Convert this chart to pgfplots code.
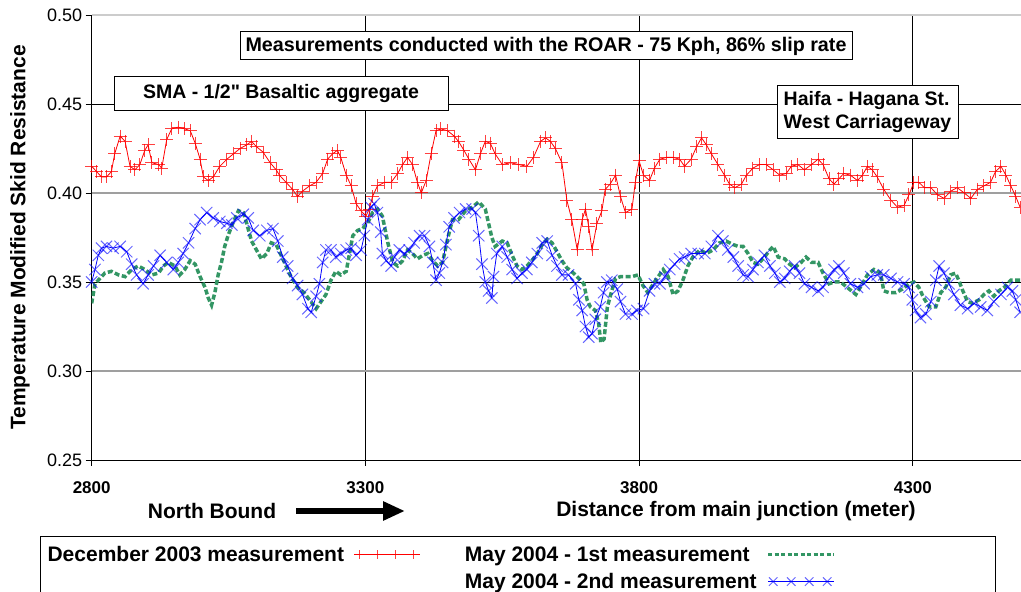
\documentclass[border=0pt]{standalone}
\usepackage{fontspec}
\setmainfont{Liberation Sans}[Ligatures=TeXOff]
\usepackage{pgfplots}
\pgfplotsset{compat=1.18}
\usetikzlibrary{arrows.meta}
\definecolor{sgreen}{RGB}{51,150,100}
\begin{document}
\begin{tikzpicture}[x=1pt,y=1pt]
\useasboundingbox (0,0) rectangle (1021,592);
\begin{axis}[
  at={(91.7pt,132pt)}, anchor=south west,
  scale only axis, width=930.6pt, height=445pt,
  xmin=2800, xmax=4500, ymin=0.25, ymax=0.5,
  xtick={2800,3300,3800,4300}, ytick={0.25,0.30,0.35,0.40,0.45,0.50},
  axis lines*=left, axis line style={black, line width=0.8pt, -},
  xmajorgrids, ymajorgrids, grid style={black, line width=0.8pt},
  tick align=outside, major tick length=6pt, tick style={black, line width=0.8pt},
  /pgf/number format/assume math mode=true,
  xticklabel style={font=\bfseries\fontsize{17}{20}\selectfont, yshift=-12pt, /pgf/number format/1000 sep={}},
  yticklabel style={font=\fontsize{18}{21}\selectfont, /pgf/number format/fixed, /pgf/number format/fixed zerofill, /pgf/number format/precision=2},
  ylabel={Temperature Modified Skid Resistance},
  ylabel style={font=\bfseries\fontsize{21}{24}\selectfont, at={(axis description cs:-0.077,0.5)}, anchor=center},
  legend columns=2, legend plot pos=right, legend cell align=left,
  legend style={at={(axis description cs:-0.053,-0.185)}, anchor=north west, draw=none, fill=none,
    font=\bfseries\fontsize{21}{25}\selectfont, row sep=6pt,
    /tikz/every odd column/.append style={column sep=8pt},
    /tikz/every even column/.append style={column sep=42pt}},
]
\draw[gray!75, line width=1.8pt] (axis cs:2800,0.40) -- (axis cs:4500,0.40);
\draw[gray!75, line width=1.8pt] (axis cs:2800,0.30) -- (axis cs:4500,0.30);
\draw[gray!40, line width=1.6pt] (axis cs:2800,0.50) -- (axis cs:4500,0.50);

\addplot[red, line width=0.8pt, mark=+, mark size=6.5pt, mark options={red, opacity=0.75, line width=1pt},
  legend image code/.code={\draw[red, line width=0.8pt] (0pt,0pt) -- (66pt,0pt);
    \draw[red, line width=1pt] plot[mark=+, mark size=4.5pt] coordinates {(5pt,0pt) (23pt,0pt) (41pt,0pt) (59pt,0pt)};}]
coordinates {
(2800,0.415) (2809,0.412) (2818,0.409) (2827,0.409) (2836,0.412) (2842,0.422) (2852,0.432) (2861,0.429)
(2870,0.415) (2879,0.413) (2888,0.416) (2897,0.424) (2903,0.427) (2910,0.417) (2922,0.416) (2928,0.414)
(2937,0.430) (2946,0.436) (2958,0.437) (2970,0.436) (2980,0.435) (2989,0.428) (2998,0.419) (3004,0.409)
(3013,0.407) (3022,0.409) (3034,0.415) (3047,0.419) (3059,0.422) (3071,0.425) (3083,0.427) (3092,0.429)
(3101,0.426) (3113,0.423) (3126,0.417) (3137,0.413) (3143,0.410) (3155,0.406) (3167,0.402) (3176,0.398)
(3185,0.401) (3198,0.404) (3210,0.406) (3222,0.411) (3231,0.419) (3240,0.422) (3249,0.424) (3255,0.420)
(3265,0.410) (3274,0.404) (3283,0.394) (3292,0.390) (3301,0.387) (3307,0.391) (3313,0.398) (3322,0.404)
(3335,0.406) (3347,0.406) (3359,0.411) (3368,0.416) (3377,0.420) (3386,0.416) (3395,0.406) (3402,0.400)
(3411,0.407) (3420,0.422) (3429,0.435) (3438,0.436) (3450,0.435) (3462,0.432) (3470,0.429) (3480,0.424)
(3489,0.419) (3501,0.413) (3510,0.422) (3519,0.429) (3528,0.428) (3537,0.422) (3550,0.416) (3565,0.417)
(3580,0.416) (3595,0.415) (3607,0.420) (3620,0.429) (3629,0.431) (3638,0.429) (3647,0.425) (3659,0.417)
(3668,0.396) (3677,0.385) (3687,0.368) (3696,0.385) (3702,0.391) (3708,0.381) (3714,0.368) (3723,0.383)
(3732,0.390) (3738,0.402) (3747,0.405) (3757,0.410) (3766,0.398) (3775,0.389) (3787,0.391) (3793,0.406)
(3800,0.418) (3808,0.410) (3819,0.407) (3828,0.414) (3838,0.419) (3850,0.420) (3862,0.420) (3874,0.419)
(3883,0.415) (3895,0.419) (3905,0.426) (3914,0.431) (3923,0.427) (3932,0.422) (3944,0.416) (3956,0.410)
(3965,0.405) (3975,0.403) (3987,0.405) (3996,0.410) (4008,0.414) (4020,0.416) (4032,0.416) (4045,0.413)
(4057,0.410) (4069,0.411) (4078,0.415) (4090,0.416) (4102,0.413) (4115,0.416) (4127,0.419) (4136,0.416)
(4147,0.408) (4156,0.405) (4165,0.408) (4174,0.411) (4186,0.410) (4199,0.407) (4208,0.410) (4217,0.415)
(4226,0.413) (4235,0.409) (4247,0.402) (4260,0.396) (4272,0.392) (4284,0.393) (4293,0.399) (4302,0.406)
(4311,0.406) (4321,0.403) (4333,0.403) (4345,0.399) (4357,0.397) (4369,0.401) (4381,0.403) (4394,0.400)
(4406,0.397) (4418,0.402) (4430,0.404) (4442,0.406) (4451,0.412) (4461,0.415) (4470,0.410) (4479,0.404)
(4488,0.398) (4496,0.392)
};
\addlegendentry{December 2003 measurement}

\addplot[sgreen, line width=3.5pt, dash pattern=on 5pt off 2.5pt,
  legend image code/.code={\draw[sgreen, line width=3pt, dash pattern=on 4pt off 2.5pt] (0pt,0pt) -- (66pt,0pt);}]
coordinates {
(2800,0.338) (2806,0.349) (2815,0.352) (2824,0.355) (2836,0.356) (2849,0.354) (2861,0.353) (2873,0.357)
(2885,0.359) (2897,0.357) (2910,0.354) (2922,0.355) (2931,0.359) (2940,0.361) (2952,0.359) (2961,0.354)
(2970,0.357) (2980,0.362) (2989,0.360) (2998,0.353) (3007,0.347) (3013,0.341) (3019,0.337) (3025,0.344)
(3031,0.354) (3037,0.361) (3043,0.370) (3049,0.376) (3059,0.384) (3068,0.390) (3077,0.389) (3083,0.383)
(3092,0.373) (3101,0.368) (3110,0.363) (3120,0.366) (3128,0.372) (3137,0.371) (3146,0.365) (3155,0.359)
(3164,0.353) (3176,0.347) (3188,0.344) (3198,0.340) (3210,0.335) (3219,0.339) (3228,0.343) (3237,0.351)
(3246,0.356) (3255,0.354) (3265,0.356) (3277,0.376) (3286,0.379) (3295,0.380) (3304,0.383) (3313,0.389)
(3322,0.391) (3331,0.387) (3341,0.372) (3350,0.361) (3359,0.359) (3368,0.362) (3377,0.368) (3386,0.366)
(3395,0.363) (3405,0.365) (3414,0.366) (3423,0.362) (3432,0.359) (3441,0.361) (3450,0.374) (3459,0.385)
(3470,0.385) (3483,0.390) (3495,0.392) (3507,0.395) (3519,0.391) (3525,0.383) (3531,0.375) (3537,0.370)
(3550,0.373) (3559,0.372) (3568,0.365) (3577,0.359) (3586,0.357) (3595,0.359) (3604,0.362) (3614,0.366)
(3623,0.371) (3632,0.374) (3641,0.372) (3650,0.367) (3659,0.362) (3668,0.358) (3680,0.355) (3690,0.352)
(3699,0.349) (3705,0.340) (3711,0.336) (3720,0.334) (3726,0.327) (3730,0.316) (3736,0.318) (3742,0.336)
(3750,0.345) (3757,0.352) (3766,0.353) (3775,0.353) (3787,0.353) (3798,0.354) (3807,0.348) (3816,0.344)
(3828,0.350) (3844,0.357) (3853,0.353) (3862,0.343) (3871,0.345) (3880,0.351) (3889,0.359) (3898,0.364)
(3911,0.368) (3923,0.366) (3935,0.368) (3947,0.372) (3959,0.373) (3972,0.371) (3981,0.370) (3990,0.370)
(3999,0.366) (4008,0.361) (4017,0.360) (4029,0.364) (4039,0.368) (4045,0.370) (4054,0.364) (4066,0.363)
(4075,0.360) (4084,0.358) (4096,0.361) (4105,0.364) (4115,0.361) (4127,0.361) (4136,0.355) (4147,0.349)
(4156,0.350) (4168,0.350) (4180,0.347) (4196,0.343) (4208,0.349) (4217,0.354) (4229,0.357) (4241,0.355)
(4247,0.345) (4257,0.344) (4269,0.344) (4281,0.346) (4293,0.349) (4302,0.350) (4311,0.347) (4320,0.341)
(4330,0.336) (4342,0.336) (4351,0.344) (4360,0.347) (4369,0.354) (4378,0.355) (4384,0.351) (4390,0.346)
(4400,0.339) (4409,0.338) (4421,0.340) (4430,0.343) (4439,0.345) (4448,0.342) (4457,0.345) (4467,0.347)
(4479,0.351) (4491,0.351) (4500,0.351)
};
\addlegendentry{May 2004 - 1st measurement}
\addlegendimage{empty legend}
\addlegendentry{}

\addplot[blue, line width=0.8pt, mark=x, mark size=8pt, mark options={blue, opacity=0.6, line width=1pt},
  legend image code/.code={\draw[blue, line width=0.8pt] (0pt,0pt) -- (66pt,0pt);
    \draw[blue, line width=1pt] plot[mark=x, mark size=6pt] coordinates {(5pt,0pt) (23pt,0pt) (41pt,0pt) (59pt,0pt)};}]
coordinates {
(2800,0.350) (2806,0.357) (2812,0.365) (2818,0.369) (2827,0.370) (2839,0.369) (2852,0.370) (2864,0.367)
(2873,0.360) (2882,0.354) (2894,0.349) (2903,0.354) (2913,0.359) (2925,0.365) (2937,0.361) (2949,0.357)
(2958,0.361) (2967,0.366) (2977,0.372) (2989,0.380) (2998,0.385) (3010,0.389) (3022,0.386) (3034,0.384)
(3047,0.383) (3056,0.382) (3065,0.386) (3077,0.388) (3086,0.386) (3095,0.379) (3107,0.376) (3120,0.379)
(3131,0.380) (3140,0.373) (3149,0.364) (3158,0.359) (3167,0.352) (3176,0.348) (3185,0.343) (3195,0.335)
(3201,0.333) (3210,0.342) (3216,0.349) (3222,0.361) (3228,0.368) (3237,0.368) (3246,0.364) (3255,0.366)
(3265,0.368) (3274,0.369) (3283,0.365) (3292,0.368) (3298,0.376) (3304,0.385) (3310,0.392) (3316,0.394)
(3322,0.389) (3328,0.378) (3331,0.366) (3338,0.362) (3347,0.359) (3353,0.364) (3362,0.368) (3371,0.366)
(3380,0.368) (3389,0.372) (3399,0.376) (3408,0.376) (3417,0.370) (3423,0.361) (3429,0.351) (3435,0.355)
(3441,0.361) (3447,0.371) (3453,0.381) (3462,0.386) (3472,0.389) (3483,0.391) (3495,0.391) (3501,0.389)
(3507,0.376) (3513,0.360) (3519,0.350) (3525,0.345) (3531,0.341) (3534,0.353) (3540,0.366) (3550,0.370)
(3559,0.364) (3568,0.357) (3577,0.352) (3586,0.355) (3595,0.357) (3604,0.361) (3614,0.366) (3623,0.372)
(3632,0.373) (3641,0.365) (3650,0.359) (3659,0.354) (3671,0.354) (3684,0.349) (3690,0.340) (3696,0.334)
(3702,0.325) (3708,0.319) (3714,0.321) (3720,0.329) (3729,0.336) (3735,0.344) (3741,0.350) (3750,0.351)
(3760,0.346) (3766,0.339) (3775,0.332) (3787,0.332) (3796,0.334) (3808,0.335) (3819,0.345) (3828,0.349)
(3838,0.349) (3847,0.353) (3856,0.357) (3865,0.360) (3874,0.363) (3883,0.364) (3895,0.366) (3908,0.366)
(3920,0.366) (3932,0.370) (3944,0.376) (3953,0.373) (3962,0.368) (3972,0.364) (3981,0.359) (3990,0.354)
(3999,0.353) (4008,0.357) (4017,0.361) (4029,0.365) (4039,0.359) (4048,0.355) (4057,0.350) (4066,0.352)
(4075,0.356) (4084,0.359) (4093,0.355) (4102,0.349) (4115,0.347) (4127,0.345) (4136,0.347) (4147,0.353)
(4156,0.357) (4165,0.359) (4174,0.355) (4186,0.349) (4199,0.347) (4211,0.349) (4223,0.353) (4235,0.354)
(4247,0.354) (4260,0.352) (4272,0.350) (4284,0.349) (4293,0.347) (4299,0.340) (4305,0.334) (4314,0.330)
(4324,0.332) (4333,0.339) (4342,0.351) (4348,0.359) (4357,0.355) (4366,0.349) (4375,0.343) (4387,0.337)
(4400,0.335) (4412,0.338) (4424,0.336) (4436,0.334) (4448,0.339) (4461,0.343) (4473,0.347) (4482,0.345)
(4488,0.340) (4496,0.333)
};
\addlegendentry{May 2004 - 2nd measurement}
\end{axis}

\node[draw=black, line width=1pt, fill=white, minimum width=612pt, minimum height=28pt, inner sep=0pt,
  font=\bfseries\fontsize{19.7}{23}\selectfont] at (546,546) {Measurements conducted with the ROAR - 75 Kph, 86\% slip rate};
\node[draw=black, line width=1pt, fill=white, minimum width=334pt, minimum height=34pt, inner sep=0pt,
  font=\bfseries\fontsize{19.5}{23}\selectfont] at (281,498) {SMA - 1/2" Basaltic aggregate};
\node[draw=black, line width=1pt, fill=white, minimum width=181pt, minimum height=53pt, inner sep=0pt, align=left,
  font=\bfseries\fontsize{19.5}{23}\selectfont] at (867.5,479.5) {Haifa - Hagana St.\\West Carriageway};

\node[font=\bfseries\fontsize{21}{24}\selectfont] at (212,81) {North Bound};
\draw[line width=5.5pt, -{Triangle[length=22pt, width=18pt]}] (296,81) -- (405,81);
\node[font=\bfseries\fontsize{21}{24}\selectfont] at (736,81) {Distance from main junction (meter)};
\draw[line width=1pt] (40,55) rectangle (995,-10);
\end{tikzpicture}
\end{document}
